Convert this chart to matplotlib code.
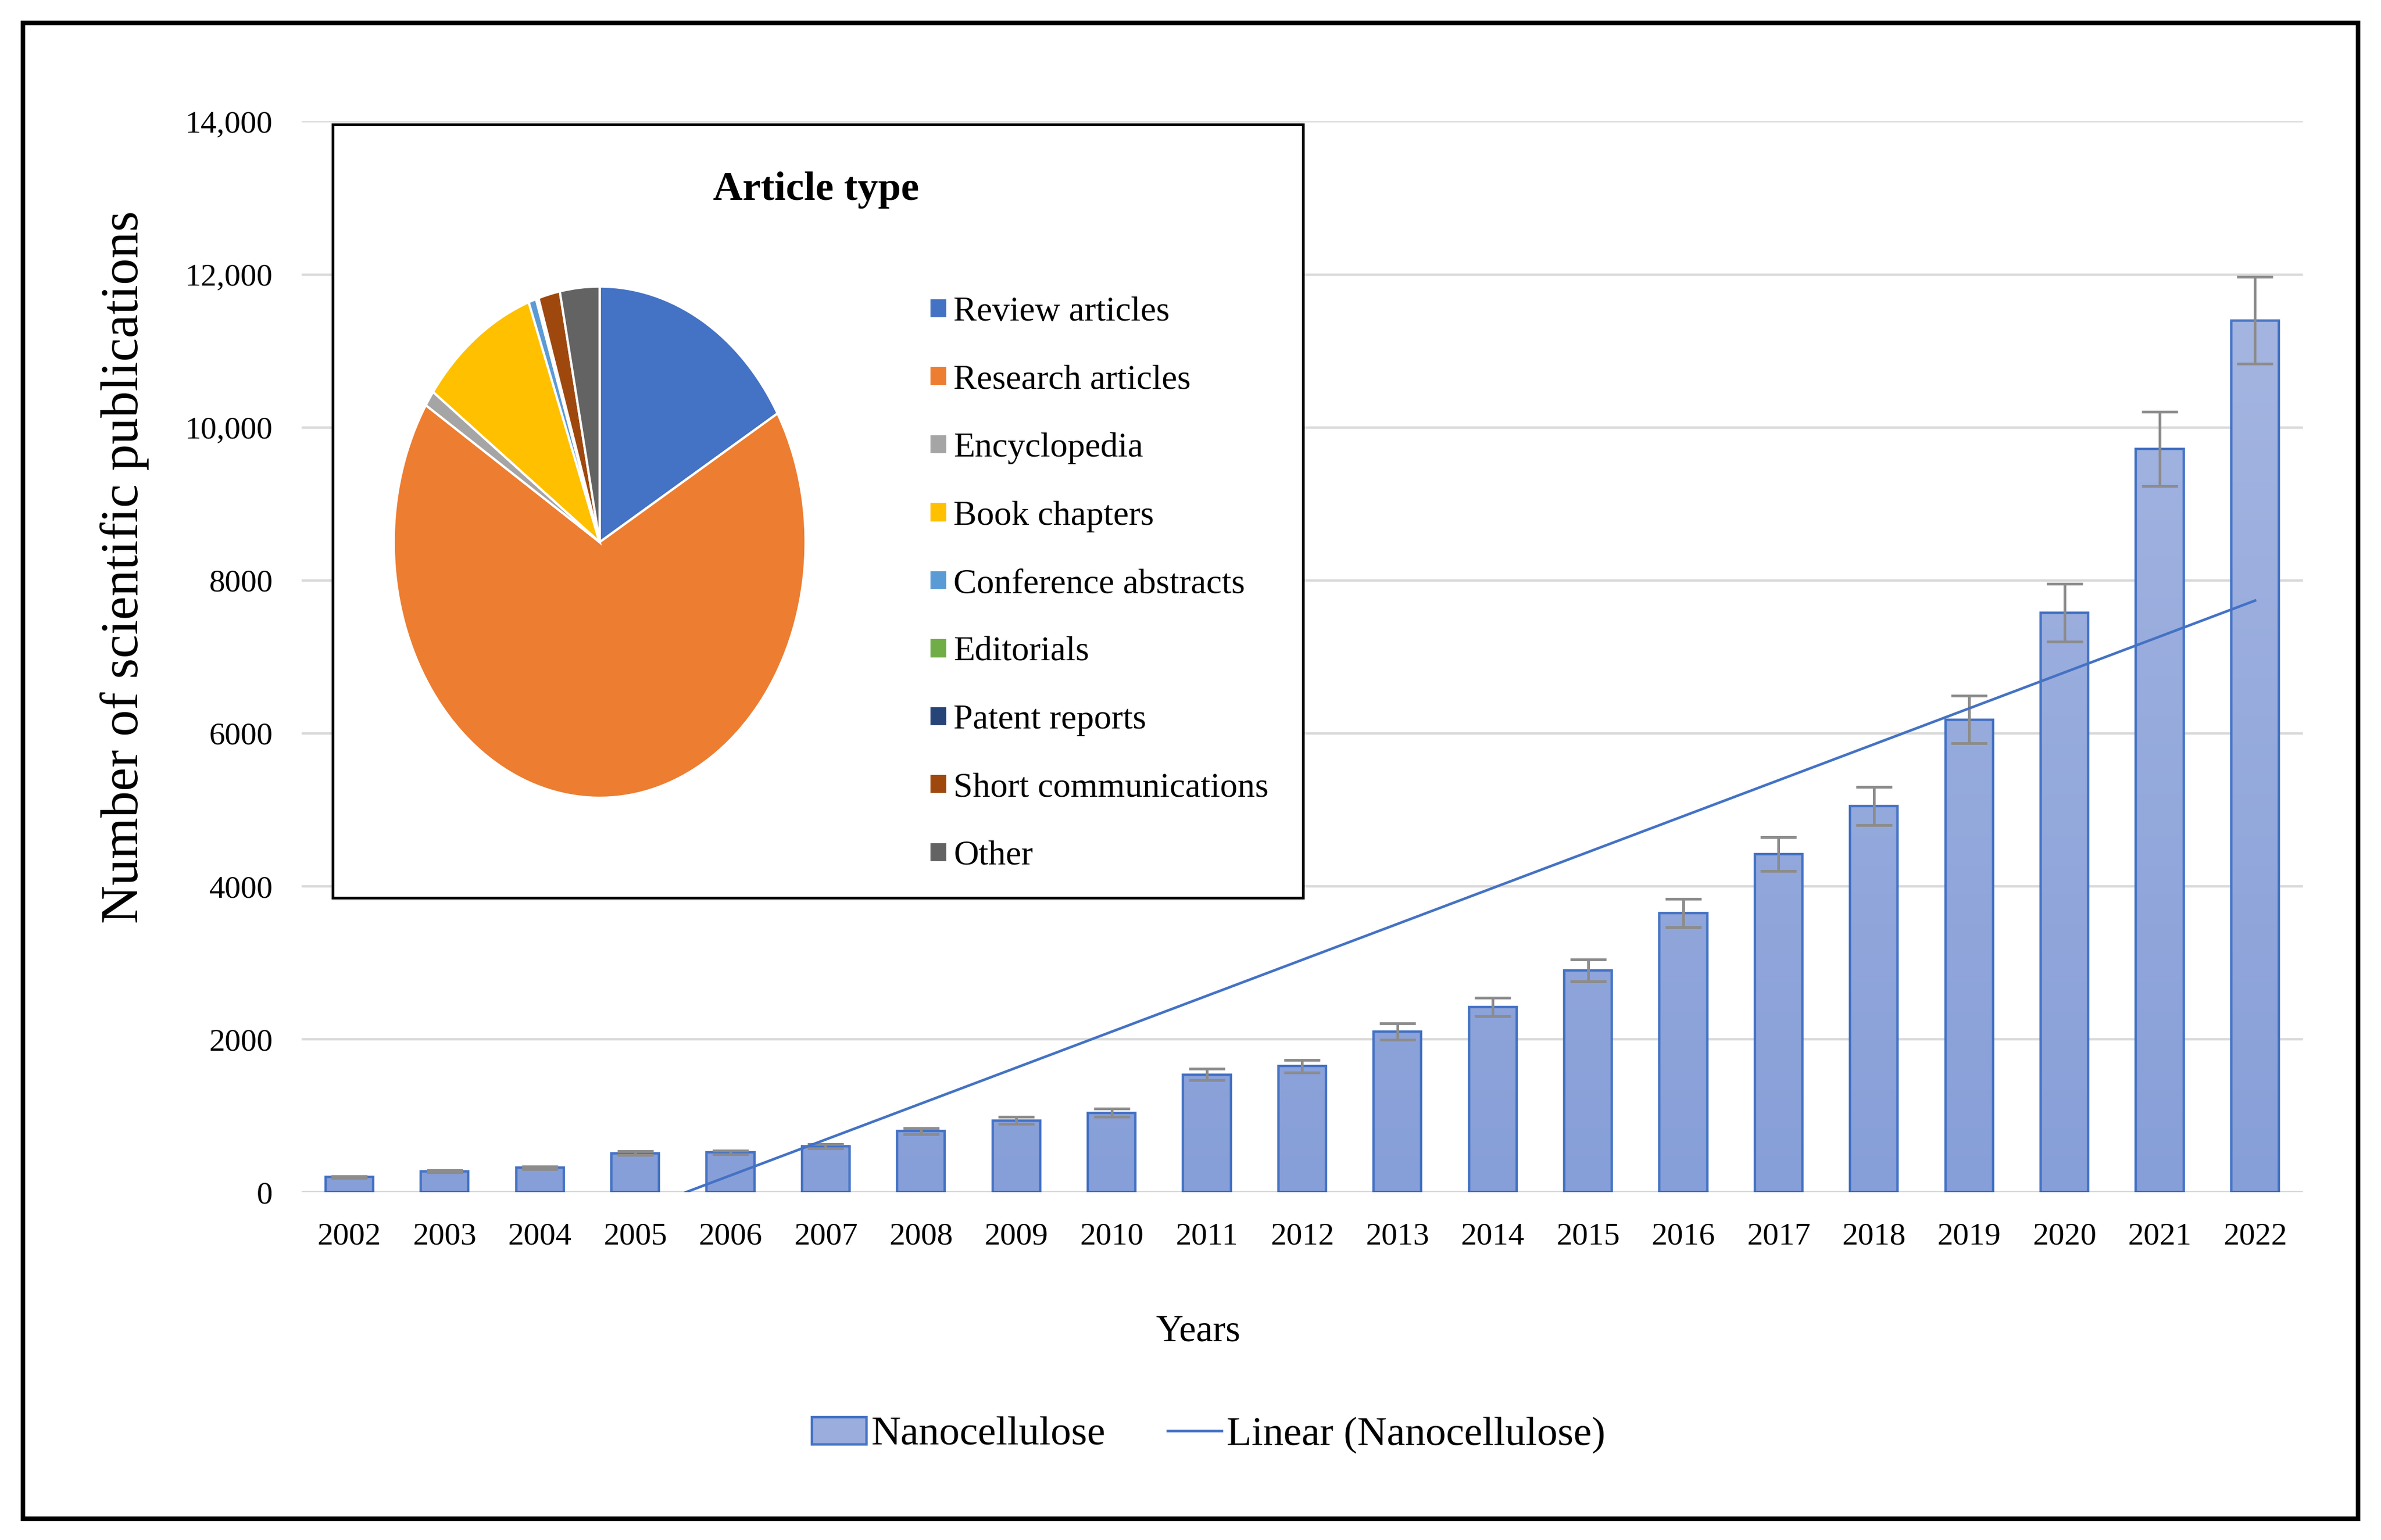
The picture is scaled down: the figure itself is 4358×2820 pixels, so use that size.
import numpy as np
import matplotlib
matplotlib.use("Agg")
import matplotlib.pyplot as plt
from matplotlib.patches import Rectangle, Patch
from matplotlib.lines import Line2D
from matplotlib.colors import LinearSegmentedColormap

plt.rcParams['font.family'] = ['Liberation Serif', 'DejaVu Serif']
SERIF = 'Liberation Serif'

# data
years = ['2002', '2003', '2004', '2005', '2006', '2007', '2008', '2009', '2010', '2011', '2012',
         '2013', '2014', '2015', '2016', '2017', '2018', '2019', '2020', '2021', '2022']
pubs = [200, 270, 320, 510, 520, 600, 800, 940, 1040, 1540, 1650,
        2100, 2420, 2900, 3650, 4420, 5050, 6180, 7580, 9720, 11400]
pub_err = [10, 14, 16, 26, 26, 30, 40, 47, 52, 77, 83,
           105, 121, 145, 183, 221, 253, 309, 379, 486, 570]
yticks = [0, 2000, 4000, 6000, 8000, 10000, 12000, 14000]
ytick_labels = ['0', '2000', '4000', '6000', '8000', '10,000', '12,000', '14,000']

art_types = ['Review articles', 'Research articles', 'Encyclopedia', 'Book chapters',
             'Conference abstracts', 'Editorials', 'Patent reports', 'Short communications', 'Other']
art_share = [16.6, 67.4, 1.0, 9.4, 0.6, 0.1, 0.1, 1.7, 3.1]
art_colors = ['#4472C4', '#ED7D31', '#A5A5A5', '#FFC000', '#5B9BD5',
              '#70AD47', '#264478', '#9E480E', '#636363']

bar_edge = '#4472C4'
bar_fill = '#9AADDD'

fig = plt.figure(figsize=(21.79, 14.10), dpi=200)

ax = fig.add_axes([0.1267, 0.2258, 0.8404, 0.6953])
x = np.arange(len(years))
bars = ax.bar(x, pubs, width=0.5, color='none', edgecolor=bar_edge, linewidth=1.6, zorder=3)

# excel style vertical gradient inside each bar
grad_cmap = LinearSegmentedColormap.from_list('g', ['#879FD8', '#ABBAE3'])
grad = np.linspace(0, 1, 256).reshape(-1, 1)
for b in bars:
    bx, bw = b.get_x(), b.get_width()
    im = ax.imshow(grad, extent=[bx, bx + bw, 0, 14000], origin='lower', aspect='auto',
                   cmap=grad_cmap, zorder=2, interpolation='bicubic')
    im.set_clip_path(b)

ax.errorbar(x, pubs, yerr=pub_err, fmt='none', ecolor='#8C8C8C', elinewidth=1.8,
            capsize=12, capthick=1.8, zorder=4)

# linear trendline
a, c = np.polyfit(x, pubs, 1)
x0 = -c / a
ax.plot([x0, x[-1]], [0, a * x[-1] + c], color='#4472C4', lw=1.7, zorder=5)

ax.set_xlim(-0.5, len(years) - 0.5)
ax.set_ylim(0, 14000)
ax.set_xticks(x)
ax.set_xticklabels(years, fontsize=21, family=SERIF)
ax.set_yticks(yticks)
ax.set_yticklabels(ytick_labels, fontsize=21, family=SERIF)
ax.tick_params(axis='both', length=0)
ax.tick_params(axis='x', pad=20)
ax.tick_params(axis='y', pad=19)
ax.grid(axis='y', color='#D9D9D9', lw=1.6, zorder=0)
ax.set_axisbelow(True)
for s in ax.spines.values():
    s.set_visible(False)

ax.set_xlabel('Years', fontsize=25, family=SERIF)
ax.xaxis.set_label_coords(0.448, -0.114)
ax.xaxis.label.set_va('top')
ax.set_ylabel('Number of scientific publications', fontsize=35, family=SERIF)
ax.yaxis.set_label_coords(-0.0763, 0.584)

# bottom legend
h_bar = Patch(facecolor=bar_fill, edgecolor=bar_edge, linewidth=1.6)
h_line = Line2D([0], [0], color='#4472C4', lw=1.7)
fig.legend([h_bar, h_line], ['Nanocellulose', 'Linear (Nanocellulose)'], loc='center',
           bbox_to_anchor=(0.5077, 0.068), ncol=2, frameon=False,
           prop={'family': SERIF, 'size': 27},
           handlelength=1.33, handleheight=0.65, handletextpad=0.12, columnspacing=1.5)

# inset box with pie
box = fig.add_axes([0.1397, 0.417, 0.4075, 0.502])
box.set_facecolor('white')
box.set_xticks([])
box.set_yticks([])
for s in box.spines.values():
    s.set_color('black')
    s.set_linewidth(1.8)
box.text(0.498, 0.9155, 'Article type', transform=box.transAxes, ha='center', va='center',
         fontsize=27, fontweight='bold', family=SERIF)

pax = fig.add_axes([0.1645, 0.4803, 0.1747, 0.3353])
wedges, _ = pax.pie(art_share, colors=art_colors, startangle=90, counterclock=False,
                    wedgeprops=dict(edgecolor='white', linewidth=1.5))
pax.set_aspect('auto')
pax.set_xlim(-1.01, 1.01)
pax.set_ylim(-1.01, 1.01)
pax.axis('off')

fig.legend(wedges, art_types, loc='upper left', bbox_to_anchor=(0.3903, 0.8075),
           frameon=False, prop={'family': SERIF, 'size': 23}, borderpad=0, borderaxespad=0,
           handlelength=0.52, handleheight=0.52, handletextpad=0.17, labelspacing=1.04)

# outer frame
fig.patches.append(Rectangle((0.0096, 0.0138), 0.9808, 0.9712, transform=fig.transFigure,
                             fill=False, edgecolor='black', lw=3))

fig.savefig('out.png', dpi=200)
